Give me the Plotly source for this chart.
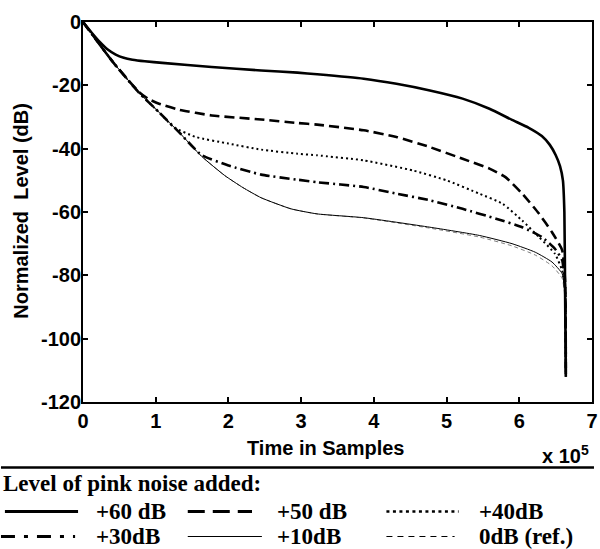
import plotly.graph_objects as go

# ---- data (x in units of 1e5 samples, y in dB) ----
x60 = [0, 0.12, 0.23, 0.34, 0.45, 0.56, 0.68, 0.85, 1.09, 1.77, 2.45, 2.95, 3.22, 3.86, 4.31, 4.77, 5.22, 5.59, 5.90, 6.13, 6.31, 6.42, 6.50, 6.56, 6.60, 6.62, 6.63, 6.64]
y60 = [0, -3.4, -6.3, -8.7, -10.3, -11.3, -11.9, -12.4, -12.9, -14.2, -15.3, -16.0, -16.5, -17.9, -19.5, -21.6, -24.2, -27.4, -30.9, -33.4, -36.0, -38.8, -42.0, -45.5, -50.0, -60.0, -85.0, -112.0]

x50 = [0, 0.41, 0.77, 0.9, 1.045, 1.32, 1.77, 2.45, 2.95, 3.22, 3.86, 4.31, 4.77, 5.22, 5.59, 5.81, 6.04, 6.27, 6.45, 6.59, 6.63, 6.64]
y50 = [0, -12.6, -22.1, -24.3, -25.8, -27.7, -29.5, -30.8, -31.9, -32.4, -34.2, -36.3, -39.5, -43.2, -46.3, -49.0, -54.2, -60.5, -66.4, -72.1, -82.0, -112.0]

x40 = [0, 0.41, 0.77, 1.05, 1.25, 1.55, 2.0, 2.45, 2.95, 3.22, 3.86, 4.54, 5.0, 5.45, 5.77, 6.04, 6.27, 6.49, 6.59, 6.63, 6.64]
y40 = [0, -12.6, -22.3, -28.6, -33.2, -36.3, -38.4, -40.3, -41.6, -42.1, -43.7, -46.9, -50.0, -54.2, -57.4, -62.7, -67.9, -73.2, -78.5, -85.0, -112.0]

x30 = [0, 0.41, 0.77, 1.05, 1.32, 1.63, 2.0, 2.45, 2.95, 3.22, 3.86, 4.31, 4.77, 5.22, 5.68, 6.04, 6.31, 6.49, 6.59, 6.63, 6.64]
y30 = [0, -12.6, -22.3, -28.6, -34.8, -42.0, -45.3, -48.2, -49.8, -50.6, -52.1, -54.2, -56.3, -59.0, -62.1, -64.8, -67.9, -71.6, -75.3, -84.0, -112.0]

x10 = [0, 0.41, 0.77, 1.05, 1.32, 1.63, 1.95, 2.2, 2.45, 2.86, 3.22, 3.86, 4.77, 5.45, 5.90, 6.22, 6.45, 6.59, 6.63, 6.64]
y10 = [0, -12.6, -22.3, -28.6, -34.8, -42.4, -48.5, -52.3, -55.5, -59.0, -60.6, -61.8, -64.8, -67.4, -70.0, -72.7, -75.8, -79.5, -86.0, -112.0]

x0 = [0, 0.41, 0.77, 1.05, 1.32, 1.63, 1.95, 2.2, 2.45, 2.86, 3.22, 3.86, 4.77, 5.45, 5.90, 6.22, 6.45, 6.59, 6.63, 6.64]
y0 = [0, -12.6, -22.3, -28.6, -34.8, -42.4, -48.5, -52.3, -55.5, -59.0, -60.6, -61.9, -65.1, -67.9, -70.7, -73.6, -77.0, -81.0, -88.0, -112.0]

xtick_vals = [0, 1, 2, 3, 4, 5, 6, 7]
xtick_text = ["0", "1", "2", "3", "4", "5", "6", "7"]
ytick_vals = [0, -20, -40, -60, -80, -100, -120]
ytick_text = ["0", "-20", "-40", "-60", "-80", "-100", "-120"]

legend_labels = ["+60 dB", "+50 dB", "+40dB", "+30dB", "+10dB", "0dB (ref.)"]

# ---- layout geometry (pixels) ----
W, H = 600, 549
ML, MR, MT, MB = 83, 2, 22, 147
PW, PH = W - ML - MR, H - MT - MB


def px(xp):
    return (xp - ML) / PW


def py(yp):
    return (H - MB - yp) / PH


SANS = "Liberation Sans, Arial, sans-serif"
SERIF = "Liberation Serif, Times New Roman, serif"

styles = [
    dict(color="black", width=2.6, dash="solid"),
    dict(color="black", width=2.6, dash="10px,5px"),
    dict(color="black", width=2.0, dash="2px,3px"),
    dict(color="black", width=2.6, dash="10px,4px,2px,4px"),
    dict(color="black", width=1.0, dash="solid"),
    dict(color="#808080", width=1.0, dash="4px,3px"),
]
series = [(x60, y60), (x50, y50), (x40, y40), (x30, y30), (x10, y10), (x0, y0)]

fig = go.Figure()
order = [5, 4, 3, 2, 1, 0]
for i in order:
    xs, ys = series[i]
    st = dict(styles[i])
    st["shape"] = "spline"
    st["smoothing"] = 0.5
    fig.add_trace(go.Scatter(x=xs, y=ys, mode="lines", line=st,
                             name=legend_labels[i], showlegend=False,
                             hoverinfo="skip"))

axis_common = dict(showline=True, linecolor="black", linewidth=2, mirror="ticks",
                   ticks="inside", ticklen=5, tickwidth=1.5, tickcolor="black",
                   showgrid=False, zeroline=False, ticklabeloverflow="allow",
                   tickfont=dict(family=SANS, size=20, color="black", weight="bold"))

fig.update_xaxes(range=[0, 7], tickvals=xtick_vals, ticktext=xtick_text, **axis_common)
fig.update_yaxes(range=[-120, 0], tickvals=ytick_vals, ticktext=ytick_text,
                 ticklabelstandoff=-4, **axis_common)

annotations = [
    dict(text="<b>Time in Samples</b>", x=px(328), y=py(448), xref="paper", yref="paper",
         showarrow=False, xanchor="center", yanchor="middle",
         font=dict(family=SANS, size=20, color="black")),
    dict(text="<b>Normalized  Level (dB)</b>", x=px(20), y=py(211), xref="paper", yref="paper",
         showarrow=False, xanchor="center", yanchor="middle", textangle=-90,
         font=dict(family=SANS, size=20, color="black")),
    dict(text="<b>x 10<sup>5</sup></b>", x=px(597), y=py(454), xref="paper", yref="paper",
         showarrow=False, xanchor="right", yanchor="middle",
         font=dict(family=SANS, size=20, color="black")),
    dict(text="<b>Level of pink noise added:</b>", x=px(0), y=py(483), xref="paper", yref="paper",
         showarrow=False, xanchor="left", yanchor="middle",
         font=dict(family=SERIF, size=23, color="black")),
]

shapes = [
    dict(type="line", xref="paper", yref="paper", x0=px(0), x1=px(600), y0=py(467.5), y1=py(467.5),
         line=dict(color="black", width=2.5)),
]

leg_styles = [
    dict(color="black", width=3.0, dash="solid"),
    dict(color="black", width=3.0, dash="17px,8px"),
    dict(color="black", width=2.5, dash="3px,3.5px"),
    dict(color="black", width=3.0, dash="14px,9px,4px,9px"),
    dict(color="black", width=1.2, dash="solid"),
    dict(color="black", width=1.0, dash="6px,5px"),
]
leg_pos = [  # (line x0, line x1, text x, row y)
    (4, 78, 94, 511.5), (189, 254, 277, 511.5), (390, 463, 482, 511.5),
    (0, 75, 94, 536.5), (189, 264, 277, 536.5), (390, 459, 482, 536.5),
]
for i, (lx0, lx1, tx, ry) in enumerate(leg_pos):
    shapes.append(dict(type="line", xref="paper", yref="paper", x0=px(lx0), x1=px(lx1),
                       y0=py(ry), y1=py(ry), line=leg_styles[i]))
    annotations.append(dict(text="<b>" + legend_labels[i] + "</b>", x=px(tx), y=py(ry),
                            xref="paper", yref="paper", showarrow=False,
                            xanchor="left", yanchor="middle",
                            font=dict(family=SERIF, size=23, color="black")))

fig.update_layout(width=W, height=H, margin=dict(l=ML, r=MR, t=MT, b=MB),
                  paper_bgcolor="white", plot_bgcolor="white",
                  annotations=annotations, shapes=shapes, showlegend=False)

fig.write_html("out.html", config={"displayModeBar": False},
               post_script="document.body.style.margin='0px';document.body.style.overflow='hidden';")
